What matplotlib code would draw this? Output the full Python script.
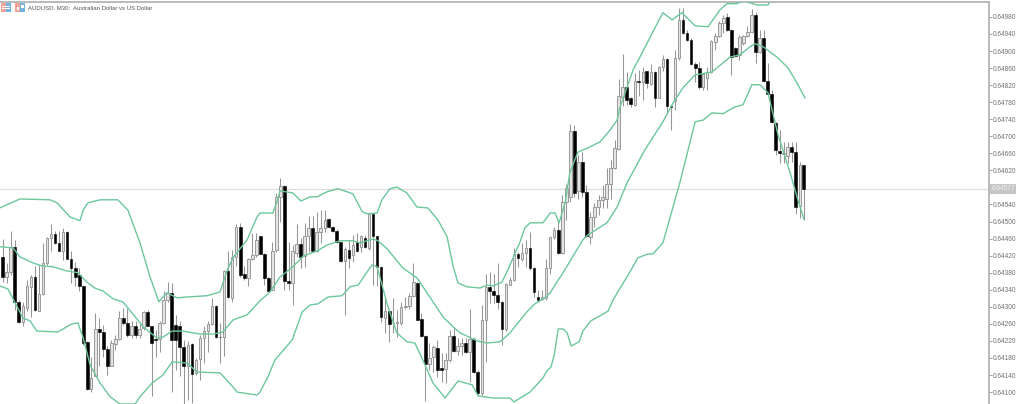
import numpy as np
from matplotlib import pyplot as plt
from matplotlib.patches import Rectangle

# prices in points (1e-5)
opens = [64418, 64371, 64381, 64440, 64312, 64264, 64297, 64346, 64370, 64291,
         64330, 64402, 64461, 64471, 64449, 64432, 64475, 64413, 64392, 64374,
         64348, 64217, 64107, 64137, 64249, 64240, 64201, 64162, 64213, 64224,
         64273, 64262, 64234, 64254, 64235, 64250, 64287, 64254, 64225, 64225,
         64262, 64315, 64332, 64258, 64255, 64205, 64162, 64212, 64144, 64177,
         64226, 64244, 64260, 64303, 64230, 64230, 64384, 64320, 64416, 64488,
         64377, 64367, 64412, 64422, 64465, 64425, 64367, 64339, 64433, 64558,
         64583, 64361, 64355, 64427, 64447, 64419, 64466, 64486, 64431, 64475,
         64484, 64505, 64488, 64478, 64451, 64408, 64433, 64422, 64451, 64440,
         64461, 64437, 64518, 64465, 64394, 64273, 64289, 64261, 64261, 64263,
         64299, 64302, 64325, 64357, 64271, 64232, 64165, 64182, 64204, 64156,
         64154, 64175, 64232, 64197, 64207, 64214, 64195, 64225, 64148, 64097,
         64268, 64347, 64338, 64327, 64312, 64247, 64352, 64363, 64425, 64411,
         64427, 64437, 64390, 64324, 64318, 64320, 64390, 64463, 64480, 64427,
         64545, 64558, 64713, 64572, 64639, 64570, 64464, 64511, 64533, 64550,
         64554, 64589, 64625, 64670, 64792, 64816, 64790, 64774, 64829, 64828,
         64853, 64823, 64851, 64790, 64863, 64882, 64771, 64783, 64884, 64973,
         64943, 64926, 64870, 64860, 64816, 64837, 64851, 64921, 64936, 64966,
         64980, 64950, 64907, 64891, 64919, 64936, 64945, 64985, 64898, 64931,
         64830, 64799, 64731, 64666, 64659, 64654, 64675, 64663, 64537, 64633]
closes = [64371, 64381, 64441, 64312, 64264, 64301, 64348, 64370, 64293, 64330,
          64402, 64461, 64471, 64449, 64432, 64475, 64413, 64391, 64371, 64348,
          64215, 64107, 64134, 64248, 64240, 64201, 64162, 64215, 64225, 64273,
          64262, 64234, 64256, 64234, 64248, 64287, 64255, 64216, 64223, 64262,
          64315, 64332, 64223, 64223, 64205, 64162, 64211, 64143, 64176, 64226,
          64244, 64260, 64303, 64228, 64228, 64384, 64322, 64418, 64488, 64375,
          64367, 64413, 64422, 64457, 64425, 64367, 64338, 64431, 64558, 64583,
          64361, 64355, 64431, 64447, 64418, 64466, 64484, 64431, 64476, 64484,
          64504, 64488, 64478, 64451, 64408, 64435, 64414, 64445, 64431, 64465,
          64440, 64518, 64465, 64394, 64277, 64290, 64260, 64263, 64264, 64300,
          64303, 64325, 64359, 64269, 64232, 64166, 64181, 64205, 64152, 64152,
          64175, 64232, 64197, 64207, 64214, 64195, 64225, 64148, 64097, 64269,
          64347, 64338, 64327, 64311, 64247, 64353, 64363, 64425, 64414, 64427,
          64437, 64390, 64334, 64316, 64324, 64390, 64463, 64480, 64427, 64545,
          64578, 64713, 64568, 64639, 64570, 64466, 64511, 64533, 64550, 64557,
          64588, 64625, 64672, 64795, 64816, 64785, 64776, 64830, 64828, 64851,
          64825, 64851, 64790, 64863, 64882, 64771, 64769, 64884, 64973, 64943,
          64926, 64870, 64860, 64816, 64846, 64851, 64924, 64936, 64966, 64978,
          64950, 64886, 64889, 64933, 64936, 64945, 64985, 64898, 64931, 64830,
          64799, 64734, 64668, 64661, 64661, 64675, 64663, 64534, 64633, 64577]
highs = [64459, 64402, 64477, 64456, 64316, 64312, 64363, 64375, 64396, 64398,
         64449, 64463, 64495, 64477, 64477, 64485, 64477, 64430, 64406, 64391,
         64352, 64219, 64183, 64285, 64273, 64258, 64207, 64223, 64234, 64289,
         64297, 64297, 64266, 64266, 64262, 64289, 64293, 64255, 64246, 64266,
         64336, 64359, 64355, 64281, 64266, 64223, 64219, 64215, 64180, 64234,
         64254, 64266, 64320, 64305, 64262, 64387, 64430, 64434, 64495, 64496,
         64395, 64414, 64474, 64473, 64466, 64427, 64371, 64453, 64568, 64601,
         64586, 64453, 64445, 64494, 64461, 64496, 64512, 64512, 64523, 64527,
         64527, 64508, 64490, 64482, 64453, 64440, 64457, 64469, 64472, 64469,
         64469, 64523, 64521, 64466, 64396, 64320, 64293, 64320, 64293, 64312,
         64324, 64332, 64402, 64359, 64285, 64234, 64214, 64210, 64222, 64191,
         64191, 64246, 64253, 64226, 64226, 64226, 64296, 64230, 64152, 64304,
         64377, 64382, 64377, 64402, 64314, 64355, 64371, 64437, 64429, 64449,
         64457, 64476, 64394, 64339, 64339, 64411, 64464, 64488, 64500, 64562,
         64589, 64729, 64726, 64656, 64664, 64586, 64523, 64543, 64562, 64586,
         64625, 64644, 64691, 64835, 64893, 64851, 64792, 64849, 64856, 64863,
         64853, 64870, 64853, 64865, 64891, 64884, 64774, 64903, 65001, 65001,
         64950, 64931, 64875, 64875, 64849, 64863, 64926, 64943, 64971, 64985,
         64989, 64952, 64910, 64938, 64938, 64959, 64999, 64992, 64950, 64950,
         64872, 64809, 64734, 64715, 64687, 64687, 64687, 64687, 64640, 64633]
lows = [64359, 64355, 64375, 64293, 64263, 64255, 64289, 64277, 64289, 64289,
        64328, 64399, 64432, 64448, 64430, 64410, 64412, 64355, 64349, 64336,
        64211, 64104, 64101, 64137, 64160, 64183, 64140, 64162, 64199, 64223,
        64258, 64230, 64226, 64226, 64226, 64246, 64254, 64090, 64183, 64195,
        64260, 64312, 64101, 64152, 64137, 64072, 64082, 64074, 64140, 64129,
        64168, 64195, 64258, 64226, 64169, 64185, 64320, 64312, 64395, 64371,
        64363, 64349, 64410, 64418, 64424, 64351, 64336, 64336, 64429, 64500,
        64339, 64339, 64304, 64418, 64390, 64393, 64429, 64429, 64429, 64449,
        64476, 64484, 64476, 64449, 64406, 64281, 64390, 64406, 64429, 64429,
        64437, 64433, 64351, 64349, 64265, 64238, 64218, 64238, 64230, 64257,
        64296, 64296, 64324, 64269, 64230, 64078, 64152, 64148, 64136, 64124,
        64121, 64171, 64195, 64187, 64187, 64191, 64124, 64144, 64093, 64093,
        64171, 64308, 64308, 64296, 64210, 64244, 64351, 64361, 64394, 64408,
        64394, 64386, 64324, 64312, 64316, 64316, 64378, 64460, 64424, 64425,
        64503, 64547, 64558, 64552, 64558, 64464, 64447, 64488, 64515, 64531,
        64531, 64552, 64623, 64668, 64771, 64774, 64769, 64771, 64795, 64785,
        64814, 64821, 64769, 64790, 64853, 64755, 64715, 64762, 64879, 64940,
        64924, 64868, 64828, 64811, 64809, 64809, 64849, 64903, 64933, 64943,
        64947, 64844, 64886, 64879, 64914, 64933, 64943, 64872, 64896, 64828,
        64797, 64731, 64656, 64638, 64638, 64638, 64640, 64518, 64509, 64504]

# Bollinger bands, corners (bar number, points)
upper_bars = [-0.7, 4.3, 11.8, 13.5, 16.7, 19.2, 20, 21.2, 24.2, 28.6, 31.1, 34.1, 36.6, 38.8, 40.8,
              43.3, 45.8, 50.8, 54, 55.7, 57.2, 60.7, 63.2, 63.9, 67.1, 68.1, 68.9, 72.1, 74.1,
              76.3, 78.1, 80.6, 83.3, 87, 89.3, 90.7, 93, 94.2, 96.2, 97.9, 100.4, 102.9, 105.6,
              108.1, 110.4, 111.9, 113.1, 115.3, 118.6, 120.3, 121.8, 124, 125.5, 128.5, 129.7,
              131, 134.2, 136, 137.2, 138.2, 139.7, 140.9, 142.9, 145.4, 148.4, 150.9, 152.6,
              153.3, 156.6, 158.3, 161.5, 164, 166.3, 168.7, 172, 175.2, 178.2, 179.9, 182.4,
              183.9, 187.4, 190.1, 190.8]
upper_vals = [64532, 64553, 64551, 64544, 64511, 64502, 64527, 64544, 64551, 64551, 64527, 64450, 64370, 64312, 64333,
              64321, 64323, 64326, 64335, 64384, 64415, 64457, 64511, 64520, 64520, 64546, 64572, 64567, 64548,
              64558, 64558, 64570, 64577, 64565, 64523, 64518, 64520, 64551, 64577, 64581, 64567, 64534, 64532,
              64504, 64464, 64394, 64356, 64347, 64344, 64351, 64349, 64358, 64387, 64452, 64485,
              64497, 64497, 64520, 64520, 64497, 64544, 64616, 64663, 64673, 64687, 64715, 64738,
              64767, 64856, 64886, 64945, 64990, 64973, 64990, 64959, 64957, 64997, 65011, 65011,
              65018, 65008, 65008, 65020]
middle_bars = [-0.7, 2.6, 4.3, 7.5, 9.8, 12.5, 16, 18.7, 20.9, 22.9, 24.9, 27.4, 29.9, 32.1, 34.9, 38.3,
               39.8, 42.1, 44.8, 49, 52.3, 54.7, 57.2, 60.7, 63.9, 66.4, 68.9, 72.1, 74.6, 78.1,
               80.6, 83.8, 86.8, 88.8, 92, 93.2, 95.5, 99.4, 102.9, 106.1, 109.4, 111.9, 113.6,
               117.8, 120.3, 123.5, 125.5, 126, 130.2, 132.2, 134.7, 136, 138, 139.2, 144.1, 145.4,
               150.1, 152.6, 155.1, 159.5, 164, 166.5, 169, 172, 176.2, 180.7, 183.1, 185.6, 186.9,
               188.9, 192.3, 195.1, 197.3, 199.3]
middle_vals = [64441, 64438, 64417, 64403, 64396, 64394, 64384, 64380, 64358, 64344, 64337, 64319, 64311, 64286, 64253, 64227,
               64229, 64243, 64243, 64236, 64236, 64241, 64269, 64281, 64314, 64335, 64370, 64394, 64419, 64431,
               64445, 64455, 64455, 64450, 64459, 64455, 64436, 64391, 64368, 64323, 64276, 64253, 64239,
               64220, 64215, 64218, 64234, 64239, 64288, 64307, 64321, 64333, 64363, 64380, 64457, 64469,
               64497, 64534, 64591, 64668, 64734, 64778, 64814, 64844, 64851, 64886, 64891, 64910, 64917,
               64910, 64886, 64860, 64825, 64790]
lower_bars = [-0.7, 1.3, 3.6, 5, 6.8, 8.5, 13.7, 17.2, 18.7, 20, 21.7, 24.2, 26.7, 29.1, 32.9, 34.1, 37.1,
              39.8, 42.1, 45.8, 48.3, 54, 57.2, 58.2, 63.2, 63.9, 65.9, 67.6, 71.9, 74.4, 76.3, 78.3,
              80.8, 84.3, 86.3, 88.3, 91.7, 93, 95.7, 97.9, 100.4, 102.4, 104.9, 106.9, 109.9, 113.1,
              116.6, 118.1, 121.8, 126, 127, 131, 134.2, 135.2, 136.2, 137, 138, 139.2, 140.2, 141.2,
              143.2, 144.1, 146.1, 150.4, 151.6, 154.6, 155.8, 157.8, 160.3, 161.5, 164, 168.2, 172,
              174, 176.2, 178.9, 181.9, 183.9, 186.1, 188.1, 190.1, 191.1, 192.6, 195.6, 197.3, 199]
lower_vals = [64349, 64342, 64300, 64274, 64267, 64243, 64241, 64260, 64262, 64227, 64164, 64121, 64089, 64072, 64072, 64089, 64121,
              64140, 64171, 64168, 64147, 64145, 64112, 64100, 64093, 64100, 64136, 64175, 64222, 64288, 64304, 64307,
              64323, 64326, 64347, 64351, 64398, 64394, 64300, 64239, 64218, 64215, 64164, 64121, 64086, 64126,
              64117, 64091, 64086, 64086, 64077, 64100, 64133, 64150, 64159, 64187, 64248, 64248, 64239, 64208,
              64218, 64243, 64267, 64290, 64316, 64363, 64382, 64415, 64424, 64424, 64450, 64591, 64734,
              64738, 64755, 64753, 64769, 64774, 64821, 64821, 64802, 64762, 64703, 64614, 64558, 64506]

tick_vals = [0.64100, 0.64140, 0.64180, 0.64220, 0.64260, 0.64300, 0.64340, 0.64380, 0.64420, 0.64460, 0.64500,
             0.64540, 0.64620, 0.64660, 0.64700, 0.64740, 0.64780, 0.64820, 0.64860, 0.64900, 0.64940, 0.64980]
last_price = 0.64577
title = "AUDUSD, M30:  Australian Dollar vs US Dollar"

o = np.array(opens) / 1e5
c = np.array(closes) / 1e5
h = np.array(highs) / 1e5
l = np.array(lows) / 1e5
bars = np.arange(len(o))
down = c < o

plt.rcParams['font.family'] = ['Liberation Sans', 'DejaVu Sans']

W, H = 1024, 404
fig = plt.figure(figsize=(W / 100, H / 100), dpi=100)
ax = fig.add_axes([0, 0, 989 / W, 402 / H])
ax.set_xlim(-0.663, 244.99)
ax.set_ylim(0.64072, 0.65015)

ax.axhline(last_price, color="#dddddd", lw=0.9, zorder=1)

""" Candles """
ax.vlines(bars, l, h, color="#969696", lw=0.75, zorder=2)
ax.bar(bars[~down], (c - o)[~down], bottom=o[~down], width=0.62, color="#e4e4e4",
       edgecolor="#9a9a9a", lw=0.7, zorder=3)
ax.bar(bars[down], (c - o)[down], bottom=o[down], width=0.68, color="black",
       edgecolor="black", lw=0.4, zorder=3)

""" Bands """
green = "#6cc79b"
ax.plot(upper_bars, np.array(upper_vals) / 1e5, color=green, lw=1.0, zorder=4)
ax.plot(middle_bars, np.array(middle_vals) / 1e5, color=green, lw=1.0, zorder=4)
ax.plot(lower_bars, np.array(lower_vals) / 1e5, color=green, lw=1.0, zorder=4)

""" Price axis """
ax.yaxis.tick_right()
ax.set_yticks(tick_vals)
ax.set_yticklabels(["%.5f" % v for v in tick_vals], fontsize=4.7, color="#707070")
ax.tick_params(axis="y", length=2, width=0.6, color="#909090", pad=0.8)
ax.set_xticks([])
for s in ["left", "bottom"]:
    ax.spines[s].set_visible(False)
ax.spines["right"].set_color("#b4b4b4")
ax.spines["right"].set_linewidth(1.3)
ax.spines["top"].set_color("#b4b4b4")
ax.spines["top"].set_linewidth(1.3)

ax.text(1.0023, last_price, "%.5f" % last_price, transform=ax.get_yaxis_transform(),
        fontsize=4.7, color="#f2f2f2", va="center", ha="left",
        bbox=dict(boxstyle="square,pad=0.25", fc="#c6c6c6", ec="none"), clip_on=False)

""" Header: symbol text and the two little icons """
fig.text(28 / W, 1 - 7.5 / H, title, fontsize=4.3, color="#555555", va="center", ha="left")


def box(x, y, w, hgt, col):
    fig.add_artist(Rectangle((x / W, 1 - (y + hgt) / H), w / W, hgt / H, color=col,
                             transform=fig.transFigure, lw=0))


box(1, 3.5, 5, 8, "#f3a39a")
box(6, 3.5, 5, 8, "#74b4e2")
for yy in [5.8, 8.3]:
    box(2, yy, 8, 0.7, "white")
box(15, 3.5, 5, 8, "#f3a39a")
box(20, 3.5, 5, 8, "#74b4e2")
box(16.5, 7, 2.5, 3, "white")
box(21, 5, 2.5, 3, "white")

fig.savefig("out.png", dpi=100)
